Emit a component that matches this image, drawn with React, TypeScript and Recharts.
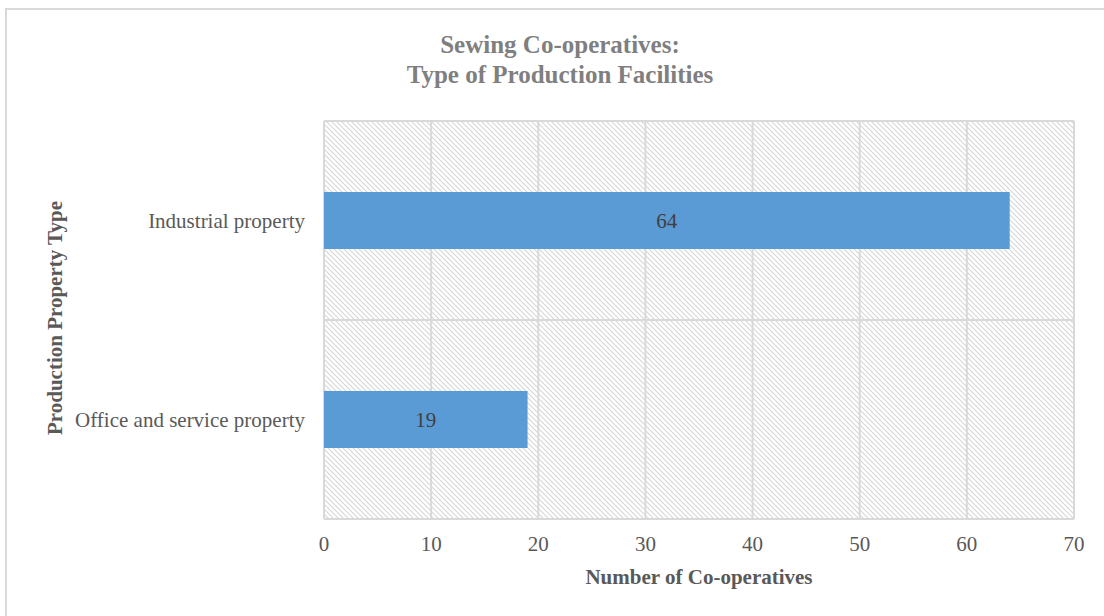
import { BarChart, Bar, XAxis, YAxis, CartesianGrid, LabelList } from 'recharts';

const categories = ['Industrial property', 'Office and service property'];
const cooperatives = [64, 19];
const xTicks = [0, 10, 20, 30, 40, 50, 60, 70];

const data = categories.map((name, i) => ({ name, value: cooperatives[i] }));

const FONT = '"Liberation Serif", "Times New Roman", serif';
const GRID = '#d9d9d9';

export default function App() {
  return (
    <div style={{ position: 'absolute', left: 0, top: 0, width: 1104, height: 616, background: '#fff', overflow: 'hidden' }}>
      {/* chart frame, only its top and left edges fall inside the view */}
      <div style={{ position: 'absolute', left: 5, top: 8, width: 1110, height: 620, border: `2px solid ${GRID}` }} />
      <div style={{ position: 'absolute', left: 0, top: 0 }}>
        <BarChart
          width={1104}
          height={616}
          data={data}
          layout="vertical"
          margin={{ top: 121, right: 30, bottom: 67, left: 24 }}
          style={{ fontFamily: FONT }}
        >
          <defs>
            <pattern id="hatch" patternUnits="userSpaceOnUse" width="5" height="5">
              <path d="M-1,-1 L6,6 M-1,4 L1,6 M4,-1 L6,1" stroke="#d6d6d6" strokeWidth={1.1} />
            </pattern>
          </defs>
          <CartesianGrid
            fill="url(#hatch)"
            fillOpacity={1}
            stroke={GRID}
            strokeWidth={2}
            horizontalCoordinatesGenerator={({ offset }: any) => [
              offset.top,
              offset.top + offset.height / 2,
              offset.top + offset.height,
            ]}
          />
          <XAxis
            type="number"
            domain={[0, 70]}
            ticks={xTicks}
            interval={0}
            axisLine={{ stroke: GRID, strokeWidth: 2 }}
            tickLine={false}
            tickSize={0}
            tickMargin={17}
            tick={{ fill: '#595959', fontSize: 21, fontFamily: FONT }}
            label={{
              content: () => (
                <text x={699} y={584} textAnchor="middle" fill="#595959" fontSize={21} fontWeight="bold" fontFamily={FONT}>
                  Number of Co-operatives
                </text>
              ),
            }}
          />
          <YAxis
            type="category"
            dataKey="name"
            width={300}
            axisLine={false}
            tickLine={false}
            tickSize={0}
            tickMargin={19}
            tick={{ fill: '#595959', fontSize: 21, fontFamily: FONT }}
            label={{
              content: () => (
                <text
                  x={62}
                  y={318}
                  transform="rotate(-90 62 318)"
                  textAnchor="middle"
                  fill="#595959"
                  fontSize={21}
                  fontWeight="bold"
                  fontFamily={FONT}
                >
                  Production Property Type
                </text>
              ),
            }}
          />
          <Bar dataKey="value" fill="#5b9bd5" barSize={57} isAnimationActive={false}>
            <LabelList dataKey="value" position="center" fill="#404040" fontSize={21} fontFamily={FONT} />
          </Bar>
          <text x={560} y={53} textAnchor="middle" fill="#7f7f7f" fontSize={25} fontWeight="bold" fontFamily={FONT}>
            Sewing Co-operatives:
          </text>
          <text x={560} y={83} textAnchor="middle" fill="#7f7f7f" fontSize={25} fontWeight="bold" fontFamily={FONT}>
            Type of Production Facilities
          </text>
        </BarChart>
      </div>
    </div>
  );
}
